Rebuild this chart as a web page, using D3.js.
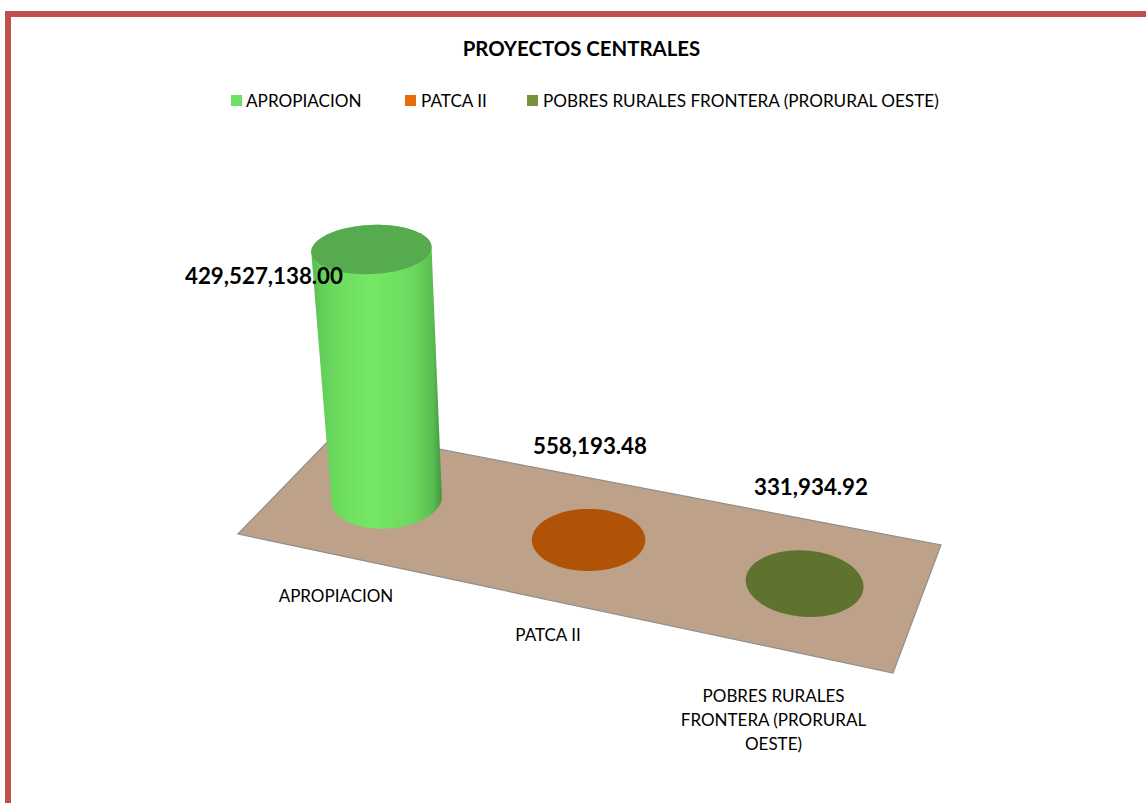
<!DOCTYPE html>
<html><head><meta charset="utf-8">
<script src="https://cdnjs.cloudflare.com/ajax/libs/d3/7.8.5/d3.min.js"></script>
<style>html,body{margin:0;padding:0;background:#fff;overflow:hidden}svg{display:block}text{font-family:Lato,"Open Sans",sans-serif;fill:#000}</style>
</head><body><svg id="c" width="1146" height="803"></svg>
<script>
const title = "PROYECTOS CENTRALES";
const categories = ["APROPIACION", "PATCA II", "POBRES RURALES FRONTERA (PRORURAL OESTE)"];
const values = [429527138.00, 558193.48, 331934.92];
const valueLabels = ["429,527,138.00", "558,193.48", "331,934.92"];
const topColors = ["#55ab4d", "#b05306", "#5f7230"];
const legendColors = ["#6edf60", "#e46c0a", "#76933c"];

const svg = d3.select("#c");
const defs = svg.append("defs");
const grad = defs.append("linearGradient").attr("id","side").attr("x1","0").attr("x2","1").attr("y1","0").attr("y2","0");
[[0,"#58b951"],[0.06,"#62cb58"],[0.2,"#6cdb5f"],[0.46,"#75e865"],[0.78,"#6bd95f"],[0.93,"#5abd51"],[1,"#43953f"]]
  .forEach(s=>grad.append("stop").attr("offset",s[0]).attr("stop-color",s[1]));

// frame
svg.append("path").attr("d","M8,803V14H1146").attr("fill","none").attr("stroke","#c0504d").attr("stroke-width",6);

// title
svg.append("text").attr("x",581.5).attr("y",56).attr("text-anchor","middle").attr("font-size",20.4).attr("font-weight",700).text(title);

// legend
const legX = [231,405,527], legT=[246,421,543];
categories.forEach((c,i)=>{
  svg.append("rect").attr("x",legX[i]).attr("y",95).attr("width",11).attr("height",11).attr("fill",legendColors[i]);
  svg.append("text").attr("x",legT[i]).attr("y",107).attr("font-size",17.15).text(c);
});

// floor homography: (u,v) -> screen
const A=[238,534],D=[893,673],C=[941,545],B=[339,430];
const dx1=D[0]-C[0],dx2=B[0]-C[0],sx=A[0]-D[0]+C[0]-B[0];
const dy1=D[1]-C[1],dy2=B[1]-C[1],sy=A[1]-D[1]+C[1]-B[1];
const den=dx1*dy2-dx2*dy1;
const g=(sx*dy2-dx2*sy)/den,h=(dx1*sy-sx*dy1)/den;
const a=D[0]-A[0]+g*D[0],b=B[0]-A[0]+h*B[0],d=D[1]-A[1]+g*D[1],e=B[1]-A[1]+h*B[1];
const proj=(u,v)=>{const w=g*u+h*v+1;return [(a*u+b*v+A[0])/w,(d*u+e*v+A[1])/w];};

svg.append("path").attr("d",d3.line()([A,D,C,B])+"Z").attr("fill","#bea189").attr("stroke","#8f8f8f").attr("stroke-width",1.2);

const uScale=d3.scaleBand().domain(categories).range([0,1]);
const hScale=d3.scaleLinear().domain([0,values[0]]).range([0,250]);
const ru=0.085, rv=0.254;
const angles=d3.range(0,360,4).map(t=>t*Math.PI/180);

categories.forEach((c,i)=>{
  const u=uScale(c)+uScale.bandwidth()/2, v=0.5;
  const base=angles.map(t=>proj(u+ru*Math.cos(t),v+rv*Math.sin(t)));
  const ctr=proj(u,v), t=hScale(values[i]), kx=1+0.09*t/250, ky=1-0.15*t/250;
  const top=base.map(p=>[ctr[0]-0.061*t+(p[0]-ctr[0])*kx, ctr[1]-t+(p[1]-ctr[1])*ky]);
  if(t>2){
    const hull=d3.polygonHull(base.concat(top));
    svg.append("path").attr("d",d3.line()(hull)+"Z").attr("fill","url(#side)");
  }
  svg.append("path").attr("d",d3.line()(top)+"Z").attr("fill",topColors[i]);
});

// value labels
const vlX=[264,590,811], vlY=[284,454,495];
valueLabels.forEach((l,i)=>svg.append("text").attr("x",vlX[i]).attr("y",vlY[i]).attr("text-anchor","middle").attr("font-size",22.3).attr("font-weight",700).text(l));

// category labels
const catLines=[["APROPIACION"],["PATCA II"],["POBRES RURALES","FRONTERA (PRORURAL","OESTE)"]];
const clX=[336,548,773.5], clY=[601.5,640.5,701.5];
catLines.forEach((ls,i)=>ls.forEach((l,j)=>svg.append("text").attr("x",clX[i]).attr("y",clY[i]+j*24).attr("text-anchor","middle").attr("font-size",17).text(l)));
</script></body></html>
